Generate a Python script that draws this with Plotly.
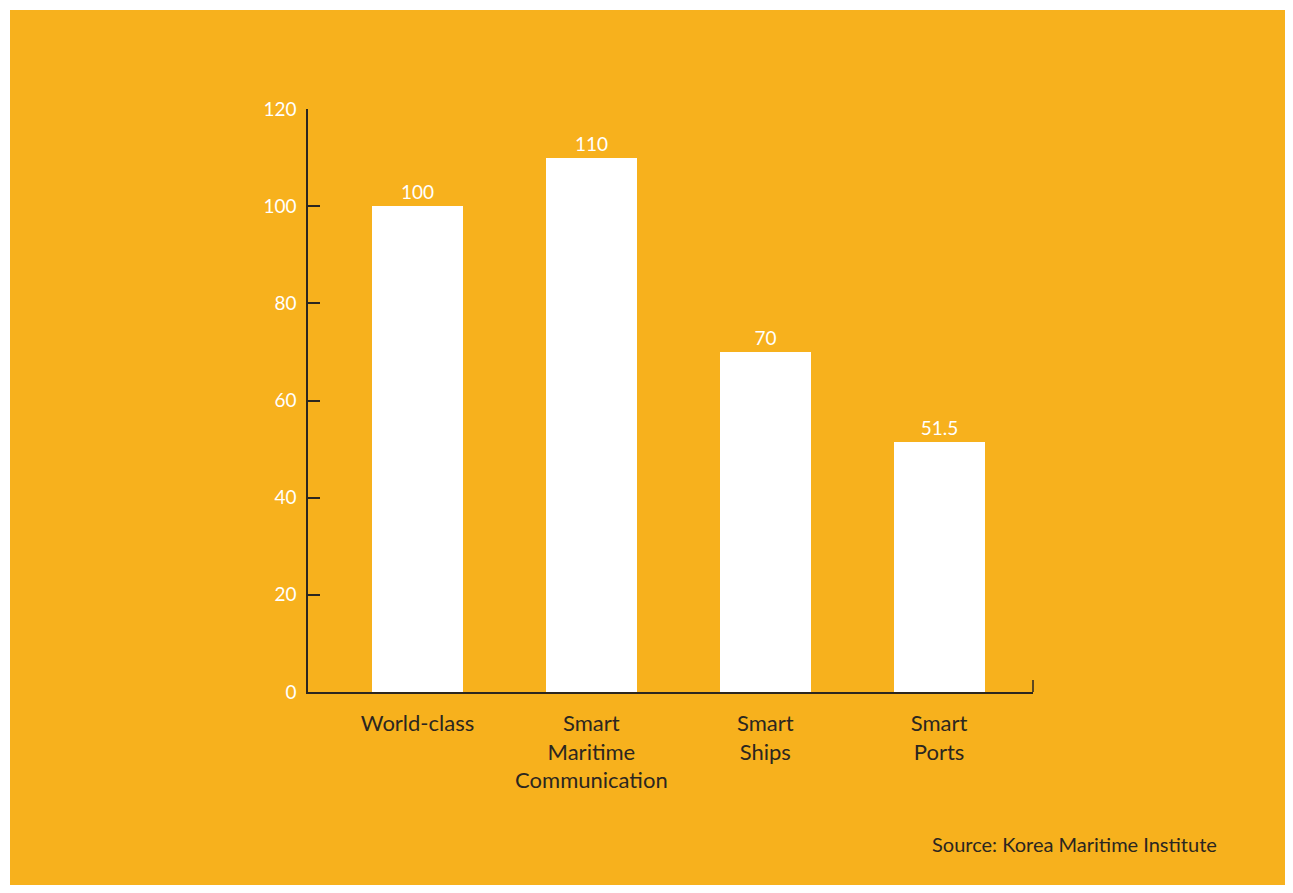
import plotly.graph_objects as go

categories = ["World-class", "Smart<br>Maritime<br>Communication", "Smart<br>Ships", "Smart<br>Ports"]
values = [100, 110, 70, 51.5]
value_labels = ["100", "110", "70", "51.5"]
y_ticks = [0, 20, 40, 60, 80, 100, 120]

ORANGE = "#F7B11D"
DARK = "#2b2620"
FONT = "Lato"

fig = go.Figure()
fig.add_trace(go.Bar(
    x=list(range(len(categories))),
    y=values,
    text=value_labels,
    textposition="outside",
    textfont=dict(color="white", size=19, family=FONT),
    marker=dict(color="white", line=dict(width=0)),
    width=0.523,
    cliponaxis=False,
    hoverinfo="skip",
))

W, H = 1293, 893
L, R, T, B = 308, 260, 109, 201
pw, ph = W - L - R, H - T - B

def px_x(p):
    return (p - L) / pw

def px_y(p):
    return (H - B - p) / ph

fig.add_shape(type="rect", xref="paper", yref="paper",
              x0=px_x(10), x1=px_x(1285), y0=px_y(885), y1=px_y(10),
              fillcolor=ORANGE, line=dict(width=0), layer="below")

# right-end tick on x axis
fig.add_shape(type="line", xref="paper", yref="paper",
              x0=1, x1=1, y0=0, y1=12 / ph,
              line=dict(color=DARK, width=1.5))

fig.add_annotation(text="Source: Korea Maritime Institute",
                   xref="paper", yref="paper",
                   x=px_x(1219), y=px_y(844), xanchor="right", yanchor="middle",
                   showarrow=False, font=dict(color=DARK, size=20, family=FONT))

fig.update_layout(
    width=W, height=H,
    margin=dict(l=L, r=R, t=T, b=B),
    paper_bgcolor="white",
    plot_bgcolor="rgba(0,0,0,0)",
    showlegend=False,
    bargap=0,
    xaxis=dict(
        tickmode="array",
        tickvals=list(range(len(categories))),
        ticktext=categories,
        range=[-0.63, 3.54],
        showgrid=False, zeroline=False,
        showline=True, linecolor=DARK, linewidth=1.5,
        ticks="",
        tickfont=dict(color=DARK, size=22, family=FONT),
        ticklabelstandoff=11,
        fixedrange=True,
    ),
    yaxis=dict(
        range=[0, 120],
        tickvals=y_ticks,
        showgrid=False, zeroline=False,
        showline=True, linecolor=DARK, linewidth=1.5,
        ticks="inside", ticklen=12, tickcolor=DARK, tickwidth=1.5,
        tickfont=dict(color="white", size=19, family=FONT),
        ticklabelstandoff=6,
        fixedrange=True,
    ),
)

fig.write_html("out.html", config={"displayModeBar": False},
               post_script="document.body.style.margin='0';")
